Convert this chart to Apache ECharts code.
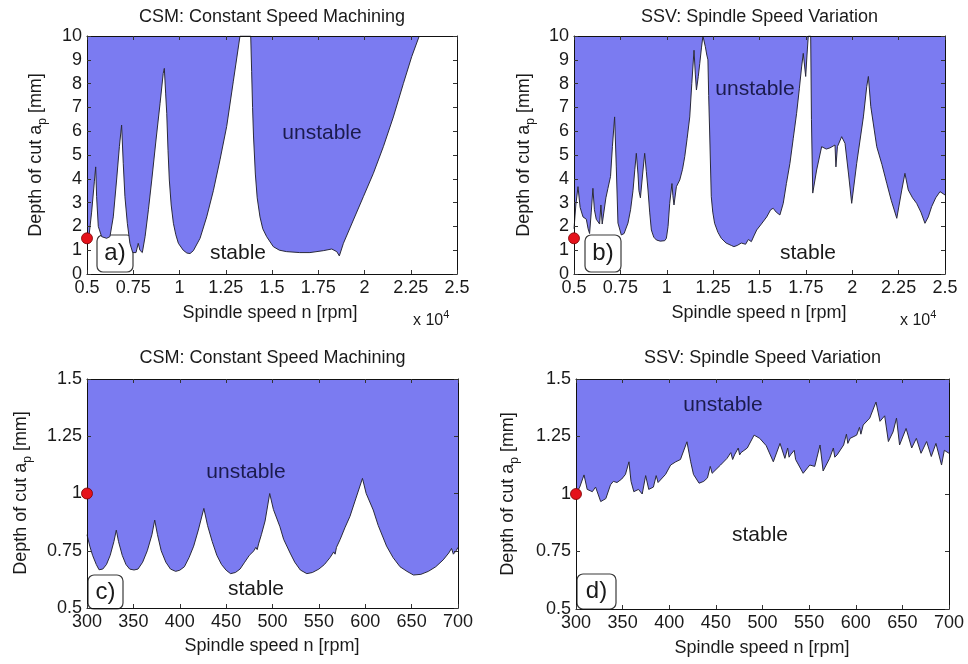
<!DOCTYPE html>
<html><head><meta charset="utf-8">
<script src="https://cdn.jsdelivr.net/npm/echarts@6/dist/echarts.min.js"></script>
<style>html,body{margin:0;padding:0;background:#fff}#c{width:968px;height:664px}</style>
</head><body><div id="c"></div><script>
// ---------- data ----------
const panelTitles = ['CSM: Constant Speed Machining', 'SSV: Spindle Speed Variation', 'CSM: Constant Speed Machining', 'SSV: Spindle Speed Variation'];
const panelTags = ['a)', 'b)', 'c)', 'd)'];

// a) CSM, wide speed range (rpm, depth mm)
const csmWideRpm = [5000,5100,5250,5400,5470,5520,5610,5790,6060,6240,6420,6600,6750,6870,6960,7050,7180,7320,7470,7650,7770,7860,7990,8140,8320,8500,8730,8950,9120,9180,9250,9310,9380,9450,9550,9670,9800,9940,10200,10400,10570,10750,11110,11470,11830,12190,12550,12910,13270,13850,13900,13950,14000,14100,14200,14350,14500,14710,15070,15400,15790,16500,17050,17770,18230,18500,18640,18860,19400,19940,20480,21020,21560,22100,22550,22960];
const csmWideDepth = [1.4,1.55,2.6,3.9,4.5,3.25,2.0,1.57,1.5,1.57,2.4,3.95,5.35,6.26,4.65,3.25,2.13,1.29,0.9,0.9,1.29,1.0,0.9,1.57,2.7,3.95,5.63,7.17,8.43,8.64,7.6,6.75,5.2,3.95,2.9,2.13,1.65,1.29,1.0,0.88,0.86,0.98,1.5,2.4,3.5,4.8,6.2,8.1,10,10,8.5,7.0,5.8,4.2,3.2,2.4,1.9,1.57,1.15,1.0,0.94,0.9,0.9,0.98,1.05,0.94,0.76,1.29,2.27,3.25,4.23,5.35,6.6,8.0,9.13,10];

// b) SSV, wide speed range
const ssvWideRpm = [5000,5100,5215,5330,5485,5665,5760,5840,5930,6020,6100,6200,6380,6450,6520,6620,6720,6830,6970,7070,7190,7280,7370,7550,7700,7910,8050,8180,8280,8360,8450,8500,8580,8700,8810,8900,8990,9080,9170,9300,9440,9650,9890,9980,10070,10160,10280,10330,10390,10520,10700,10850,10970,11100,11240,11350,11470,11540,11600,11700,11780,11870,11950,12080,12160,12220,12260,12310,12400,12480,12580,12760,12940,13200,13480,13620,13800,14020,14250,14400,14560,14700,14850,15100,15390,15600,15740,15900,16100,16280,16450,16640,16820,17000,17150,17270,17360,17490,17560,17630,17760,17800,17870,18080,18350,18600,18800,19070,19120,19200,19430,19610,19800,19970,20240,20600,20780,20870,21000,21320,21600,21860,22100,22400,22670,22840,23020,23250,23470,23700,23920,24100,24280,24500,24730,25000];
const ssvWideDepth = [1.9,2.9,3.67,2.8,2.4,2.3,1.9,1.7,2.6,3.6,2.7,2.3,2.1,2.9,2.1,2.05,3.2,3.6,4.1,5.35,6.6,4.5,2.14,1.64,1.7,2.14,2.7,3.5,4.4,5.07,4.2,3.5,3.2,4.2,5.07,4.3,3.53,2.6,1.85,1.55,1.43,1.38,1.4,1.5,2.0,2.97,3.8,3.3,2.9,3.67,3.95,4.4,4.93,5.7,6.6,8.0,9.4,8.4,7.73,8.3,8.85,9.5,10,9.55,9.2,9.0,7.5,6.05,3.25,2.6,2.13,1.75,1.5,1.3,1.2,1.15,1.2,1.3,1.25,1.45,1.36,1.6,1.85,2.1,2.4,2.7,2.76,2.6,2.48,2.97,3.8,4.65,5.7,6.75,7.8,8.7,9.27,8.3,9.2,10,10,6.5,3.4,4.37,5.35,5.25,5.3,5.42,4.5,5.35,5.77,5.49,4.2,2.97,4.65,6.6,7.87,8.3,7.03,5.35,4.6,3.81,3.1,2.34,3.53,4.23,3.53,3.2,2.97,2.6,2.13,2.4,2.83,3.2,3.46,3.32];

// c) CSM, low speed range
const csmNarrowRpm = [300,303,306,310,313,317,321,325,329,331.6,334,338,342,346,350.7,355,360,365,370,373,376,380,385,390,395.6,400,405,410,415,420,426,430,435,440,445,450,454.8,460,465,470,475,480,482,483.5,485,488,492,497,501,508,512,519,524,530,537,543,550,556,562,566,567.5,569,573,578,583.5,590,597,601,608.6,614,623,630,637.5,645,652,660,668,676,684,690,693,695,698,700];
const csmNarrowDepth = [0.82,0.77,0.73,0.69,0.667,0.67,0.69,0.73,0.79,0.84,0.79,0.73,0.69,0.67,0.666,0.67,0.7,0.75,0.82,0.884,0.82,0.75,0.7,0.67,0.66,0.665,0.68,0.72,0.77,0.84,0.935,0.86,0.79,0.73,0.69,0.665,0.65,0.655,0.67,0.7,0.73,0.75,0.765,0.755,0.78,0.82,0.88,1.0,0.93,0.855,0.8,0.74,0.7,0.666,0.65,0.655,0.67,0.69,0.72,0.745,0.735,0.765,0.8,0.85,0.9,0.98,1.066,1.0,0.928,0.86,0.77,0.72,0.68,0.66,0.644,0.647,0.66,0.68,0.71,0.74,0.76,0.735,0.75,0.765];

// d) SSV, low speed range
const ssvNarrowRpm = [300,304,308.6,312,317.5,321,326.5,332,337,340,344,349,353,356.8,359,362,367,371,374.7,378,383,386,388,390,396,401.5,407,412,419,423,426,432,437,441,444,446,448,455,462,466,468,470,474,475.5,477,483.7,491,497,504,511.6,518.8,524,527,528.5,530,534,535.5,537,543.6,550.7,556,561.7,565,572,576,577.5,580,587,590,591.5,594,601,604,605.5,608,615,621.7,626,631,635,640,643.7,647,654,660,665,670,676,681,686,692,695,700];
const ssvNarrowDepth = [1.0,1.03,1.083,1.02,1.01,1.03,0.967,0.98,1.04,1.055,1.05,1.065,1.085,1.14,1.055,1.01,1.02,1.0,1.08,1.02,1.03,1.08,1.05,1.055,1.085,1.126,1.14,1.15,1.227,1.14,1.085,1.047,1.055,1.07,1.12,1.09,1.097,1.126,1.155,1.18,1.15,1.17,1.2,1.17,1.18,1.2,1.256,1.242,1.21,1.14,1.22,1.155,1.2,1.16,1.17,1.19,1.15,1.155,1.09,1.126,1.12,1.213,1.1,1.155,1.2,1.16,1.17,1.213,1.26,1.22,1.242,1.256,1.29,1.26,1.3,1.33,1.4,1.316,1.34,1.228,1.27,1.33,1.213,1.285,1.2,1.242,1.177,1.228,1.163,1.22,1.126,1.19,1.177];

// operating points (red dots)
const wideOperatingPoint = [5000, 1.5];
const narrowOperatingPoint = [300, 1.0];

// ---------- chart ----------
const FONT = '"Liberation Sans", Arial, Helvetica, sans-serif';
const BLUE = '#7b7bf1';
const TXT = '#1a1a1a';
const zip = (xs, ys) => xs.map((x, i) => [x, ys[i]]);

const grids = [
  {left: 87, top: 36, width: 370, height: 238},
  {left: 574, top: 36, width: 371, height: 238},
  {left: 87, top: 379, width: 371, height: 229},
  {left: 576, top: 379, width: 373, height: 230}
];
const ranges = [
  {xmin: 5000, xmax: 25000, xint: 2500, ymin: 0, ymax: 10, yint: 1, fmt: v => String(v / 10000)},
  {xmin: 5000, xmax: 25000, xint: 2500, ymin: 0, ymax: 10, yint: 1, fmt: v => String(v / 10000)},
  {xmin: 300, xmax: 700, xint: 50, ymin: 0.5, ymax: 1.5, yint: 0.25, fmt: v => String(v)},
  {xmin: 300, xmax: 700, xint: 50, ymin: 0.5, ymax: 1.5, yint: 0.25, fmt: v => String(v)}
];
const curves = [zip(csmWideRpm, csmWideDepth), zip(ssvWideRpm, ssvWideDepth), zip(csmNarrowRpm, csmNarrowDepth), zip(ssvNarrowRpm, ssvNarrowDepth)];
const points = [wideOperatingPoint, wideOperatingPoint, narrowOperatingPoint, narrowOperatingPoint];

const tick = {show: true, inside: true, length: 4, lineStyle: {color: '#333', width: 1}};
const line = {show: true, onZero: false, lineStyle: {color: '#111', width: 1}};
const xAxes = [], yAxes = [], series = [];
ranges.forEach((r, i) => {
  xAxes.push({type: 'value', gridIndex: i, min: r.xmin, max: r.xmax, interval: r.xint, position: 'bottom', z: 10,
    axisLine: line, axisTick: tick, splitLine: {show: false},
    axisLabel: {formatter: r.fmt, fontSize: 18, color: TXT, fontFamily: FONT, margin: 5}});
  xAxes.push({type: 'value', gridIndex: i, min: r.xmin, max: r.xmax, interval: r.xint, position: 'top', z: 10,
    axisLine: line, axisTick: tick, splitLine: {show: false}, axisLabel: {show: false}});
  yAxes.push({type: 'value', gridIndex: i, min: r.ymin, max: r.ymax, interval: r.yint, position: 'left', z: 10,
    axisLine: line, axisTick: tick, splitLine: {show: false},
    axisLabel: {fontSize: 18, color: TXT, fontFamily: FONT, margin: 5}});
  yAxes.push({type: 'value', gridIndex: i, min: r.ymin, max: r.ymax, interval: r.yint, position: 'right', z: 10,
    axisLine: line, axisTick: tick, splitLine: {show: false}, axisLabel: {show: false}});
  series.push({type: 'line', xAxisIndex: 2 * i, yAxisIndex: 2 * i, data: curves[i], symbol: 'none', smooth: false,
    lineStyle: {color: '#2a2a3a', width: 1}, areaStyle: {color: BLUE, opacity: 1, origin: 'end'}, z: 2, animation: false});
  series.push({type: 'scatter', xAxisIndex: 2 * i, yAxisIndex: 2 * i, data: [points[i]], symbolSize: 11, clip: false,
    itemStyle: {color: '#e5121b', borderColor: '#7a0000', borderWidth: 0.8, opacity: 1}, z: 20, animation: false});
});

const titles = panelTitles.map((t, i) => ({
  text: t, left: grids[i].left + grids[i].width / 2, top: i < 2 ? 8 : 349, textAlign: 'center', padding: 0,
  textStyle: {fontSize: 18, fontWeight: 'normal', color: TXT, fontFamily: FONT}
}));

// graphic text helpers
function txt(x, y, text, size, color, extra) {
  return Object.assign({type: 'text', x: x, y: y, z: 100,
    style: {text: text, fontSize: size, fontFamily: FONT, fill: color, align: 'center', verticalAlign: 'middle'}}, extra || {});
}
function yName(x, y) {
  return {type: 'text', x: x, y: y, rotation: Math.PI / 2, z: 100,
    style: {text: 'Depth of cut a{p|p} [mm]', fontSize: 18, fontFamily: FONT, fill: TXT, align: 'center', verticalAlign: 'middle', lineHeight: 26,
      rich: {p: {fontSize: 12, fontFamily: FONT, fill: TXT, verticalAlign: 'bottom', lineHeight: 12}}}};
}
function expo(x, y) {
  return {type: 'text', x: x, y: y, z: 100,
    style: {text: 'x 10{s|4}', fontSize: 16, fontFamily: FONT, fill: TXT, align: 'left', verticalAlign: 'middle', lineHeight: 24,
      rich: {s: {fontSize: 11, fontFamily: FONT, fill: TXT, verticalAlign: 'top', lineHeight: 11}}}};
}
function tagBox(x, y, w, h, label) {
  return {type: 'group', x: x, y: y, z: 100, children: [
    {type: 'rect', shape: {x: 0, y: 0, width: w, height: h, r: 6}, style: {fill: 'rgba(255,255,255,0)', stroke: '#3a3a3a', lineWidth: 1.2}},
    {type: 'text', x: w / 2, y: h / 2, style: {text: label, fontSize: 24, fontFamily: FONT, fill: TXT, align: 'center', verticalAlign: 'middle'}}
  ]};
}
const NAVY = '#1b1b4d';
const graphics = [
  yName(36, 155), yName(524, 155), yName(21, 493), yName(508, 494),
  txt(270, 313, 'Spindle speed n [rpm]', 18, TXT), txt(759, 313, 'Spindle speed n [rpm]', 18, TXT),
  txt(272, 646, 'Spindle speed n [rpm]', 18, TXT), txt(762, 648, 'Spindle speed n [rpm]', 18, TXT),
  expo(413, 321), expo(900, 321),
  txt(322, 133, 'unstable', 21, NAVY), txt(238, 253, 'stable', 21, TXT),
  txt(755, 89, 'unstable', 21, NAVY), txt(808, 253, 'stable', 21, TXT),
  txt(246, 472, 'unstable', 21, NAVY), txt(256, 589, 'stable', 21, TXT),
  txt(723, 405, 'unstable', 21, NAVY), txt(760, 535, 'stable', 21, TXT),
  tagBox(97, 235, 36, 37, panelTags[0]), tagBox(585, 235, 36, 37, panelTags[1]),
  tagBox(88, 575, 35, 34, panelTags[2]), tagBox(577, 574, 39, 35, panelTags[3])
];

const chart = echarts.init(document.getElementById('c'), null, {renderer: 'canvas'});
chart.setOption({
  animation: false,
  backgroundColor: '#ffffff',
  title: titles,
  grid: grids,
  xAxis: xAxes,
  yAxis: yAxes,
  series: series,
  graphic: graphics
});
</script></body></html>
